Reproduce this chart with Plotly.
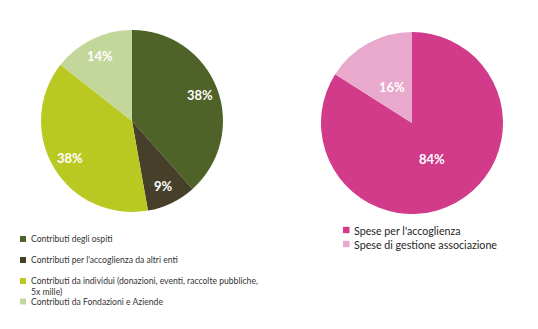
import math
import plotly.graph_objects as go

# Left pie: entrate
left_labels = [
    "Contributi degli ospiti",
    "Contributi per l'accoglienza da altri enti",
    "Contributi da individui (donazioni, eventi, raccolte pubbliche,<br>5x mille)",
    "Contributi da Fondazioni e Aziende",
]
left_values = [38.4, 8.8, 38.4, 14.4]
left_colors = ["#4F6228", "#463F29", "#B9C922", "#C4D79B"]

# Right pie: uscite
right_labels = ["Spese per l'accoglienza", "Spese di gestione associazione"]
right_values = [84, 16]
right_colors = ["#D13B8A", "#E9A9CD"]

W, H = 538, 329
LEFT_PIE = dict(cx=132, cy=121, r=91, label_r=0.8)
RIGHT_PIE = dict(cx=412, cy=123, r=91, label_r=0.45)

fig = go.Figure()
shapes = []
annotations = []


def add_pie(labels, values, colors, geo):
    cx, cy, r = geo["cx"], geo["cy"], geo["r"]
    fig.add_trace(go.Pie(
        labels=labels, values=values, sort=False, direction="clockwise",
        rotation=0, marker=dict(colors=colors, line=dict(width=0)),
        textinfo="none",
        domain=dict(x=[(cx - r) / W, (cx + r) / W], y=[1 - (cy + r) / H, 1 - (cy - r) / H]),
        showlegend=False, hoverinfo="label+percent",
    ))
    total = sum(values)
    cum = 0.0
    for v in values:
        mid = (cum + v / 2) / total * 2 * math.pi
        cum += v
        px = cx + geo["label_r"] * r * math.sin(mid)
        py = cy - geo["label_r"] * r * math.cos(mid)
        annotations.append(dict(
            text=f"{round(v / total * 100)}%", xref="paper", yref="paper",
            x=px / W, y=1 - py / H, xanchor="center", yanchor="middle", showarrow=False,
            font=dict(family="Lato", size=13, color="white", weight="bold")))


add_pie(left_labels, left_values, left_colors, LEFT_PIE)
add_pie(right_labels, right_values, right_colors, RIGHT_PIE)

# Left legend (manual, Excel-like spacing)
left_text_rows = [239, 260, 286, 301.5]
left_box_rows = [239, 260, 281, 301.5]
for lab, col, yt, yb in zip(left_labels, left_colors, left_text_rows, left_box_rows):
    shapes.append(dict(type="rect", xref="paper", yref="paper",
                       x0=20 / W, x1=26 / W, y0=1 - (yb + 3) / H, y1=1 - (yb - 3) / H,
                       fillcolor=col, line=dict(width=0)))
    annotations.append(dict(text=lab, xref="paper", yref="paper", x=28.5 / W, y=1 - yt / H,
                            xanchor="left", yanchor="middle", showarrow=False, align="left",
                            font=dict(family="Lato", size=8.6, color="#333333")))

# Right legend
right_rows = [230, 244]
for lab, col, yc in zip(right_labels, right_colors, right_rows):
    shapes.append(dict(type="rect", xref="paper", yref="paper",
                       x0=343 / W, x1=349.5 / W, y0=1 - (yc + 3.2) / H, y1=1 - (yc - 3.2) / H,
                       fillcolor=col, line=dict(width=0)))
    annotations.append(dict(text=lab, xref="paper", yref="paper", x=352 / W, y=1 - yc / H,
                            xanchor="left", yanchor="middle", showarrow=False,
                            font=dict(family="Lato", size=10.7, color="#262626")))

fig.update_layout(
    width=W, height=H, margin=dict(l=0, r=0, t=0, b=0),
    paper_bgcolor="white", plot_bgcolor="white",
    shapes=shapes, annotations=annotations,
)

fig.write_html("out.html")
